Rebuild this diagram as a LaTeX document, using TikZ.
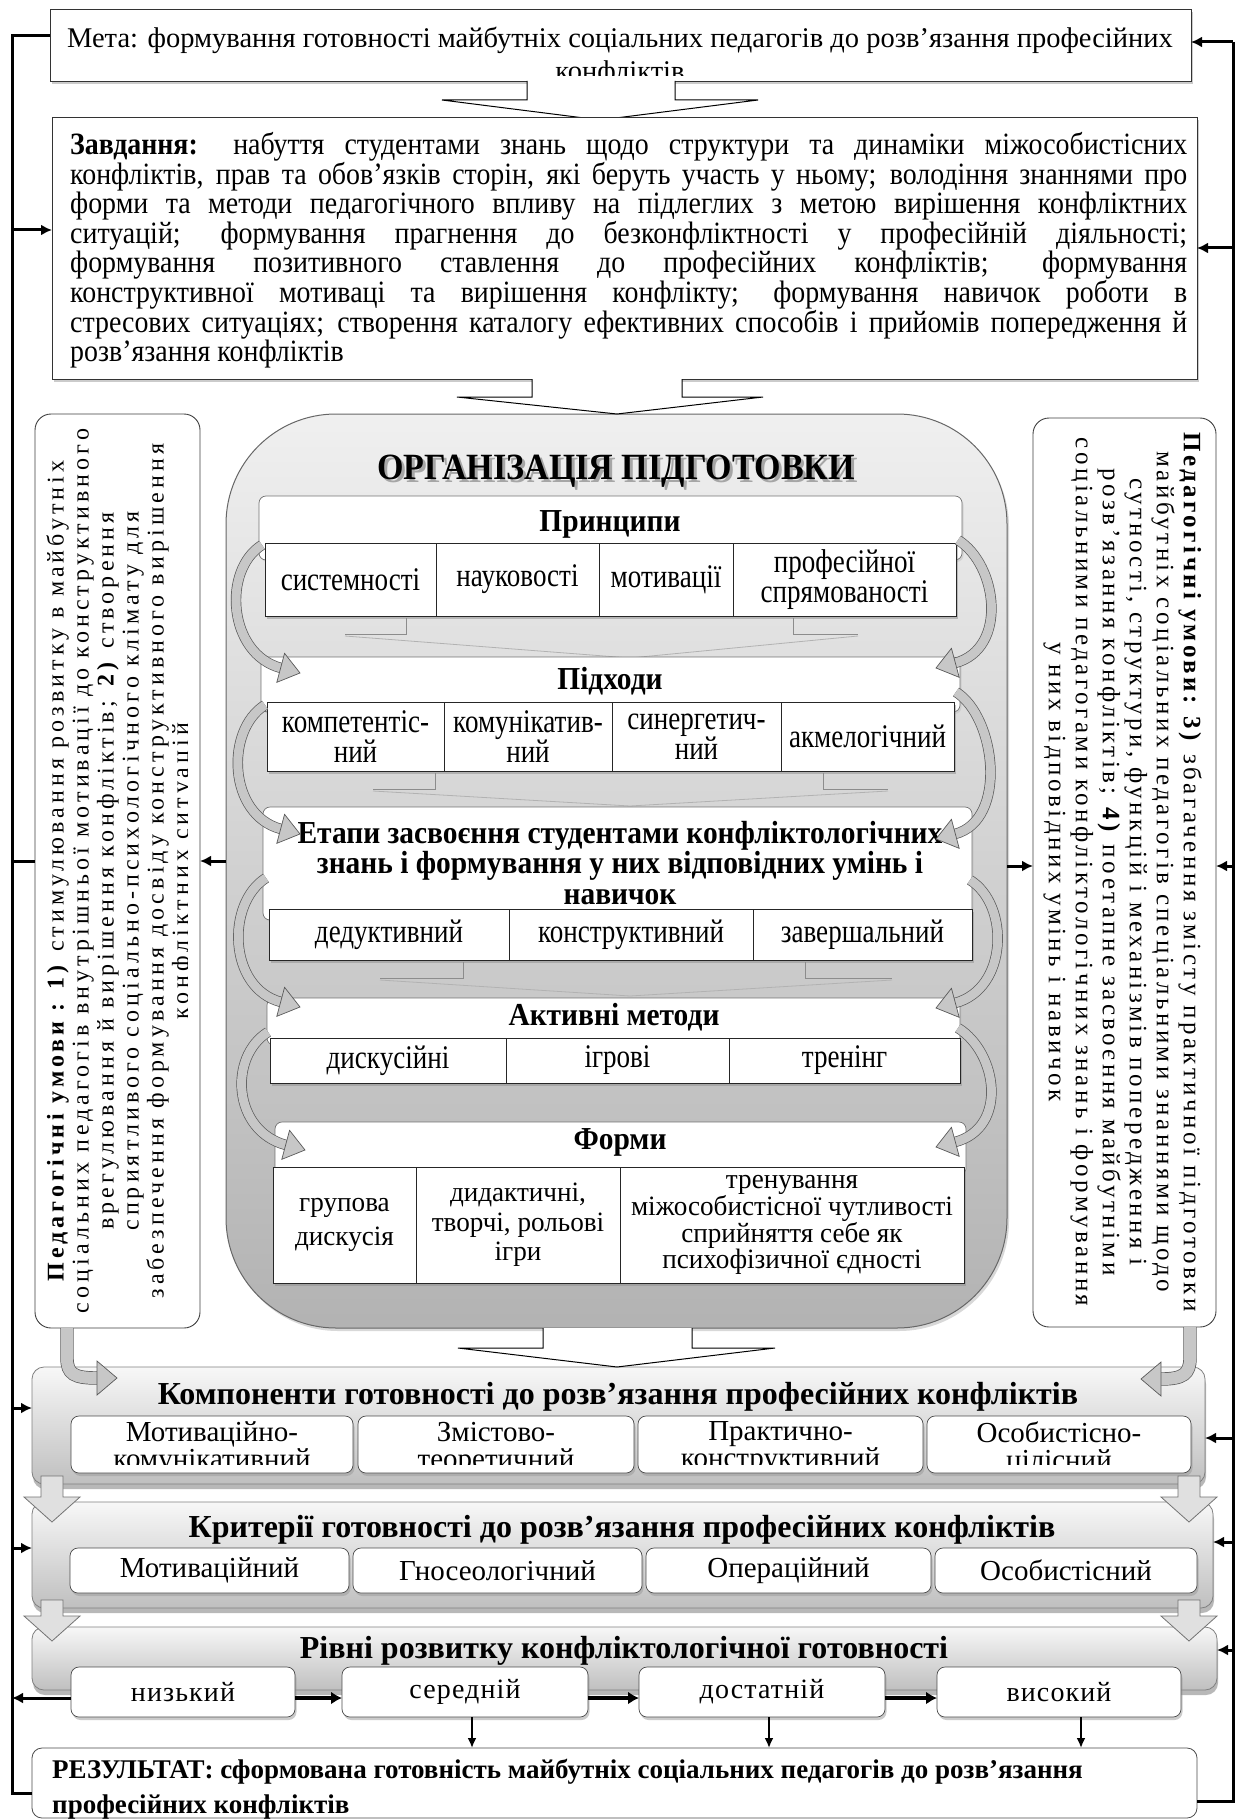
\documentclass[tikz,border=0pt]{standalone}
\usepackage{fontspec}
\setmainfont{Liberation Serif}
\newfontfamily\lsA[LetterSpace=4]{Liberation Serif}
\newfontfamily\lsR[LetterSpace=14]{Liberation Serif}
\newfontfamily\lsL[LetterSpace=17]{Liberation Serif}
\newfontfamily\cf[FakeStretch=0.82]{Liberation Serif}
\newfontfamily\cfb[FakeStretch=0.97]{Liberation Serif}
\newfontfamily\hf[FakeStretch=0.92]{Liberation Serif}
\newfontfamily\zf[FakeStretch=0.9]{Liberation Serif}
\usetikzlibrary{shadows,arrows.meta,calc}
\newcommand\cellf{\cf\fontsize{33}{30}\selectfont}
\newcommand\boxat[7][]{%
  \node[#1, minimum width={(#5)-(#3)}, minimum height={(#6)-(#4)}] (#2) at ({((#3)+(#5))/2},{((#4)+(#6))/2}) {#7};}
\newcommand\curL[4]{%
  \draw[curv] (#1,#2) .. controls (#1-40,#2+25) and (#3-72,#4-19) .. (#3-19,#4-5);
  \filldraw[headst,shift={(#3,#4)},rotate=-15] (0,0) -- (-20,15) -- (-20,-15) -- cycle;}
\newcommand\curR[4]{%
  \draw[curv] (#1,#2) .. controls (#1+40,#2+25) and (#3+72,#4-19) .. (#3+19,#4-5);
  \filldraw[headst,shift={(#3,#4)},rotate=195] (0,0) -- (-20,15) -- (-20,-15) -- cycle;}
\newcommand\gdown[3]{%
  \filldraw[garrow] (#1-11,#2) -- (#1-11,#3) -- (#1-28,#3) -- (#1,#3+25) -- (#1+28,#3) -- (#1+11,#3) -- (#1+11,#2) -- cycle;}
\tikzset{
 mbox/.style={draw=black!80, line width=0.9pt, fill=white, inner sep=0pt, outer sep=0pt, drop shadow={shadow xshift=2pt,shadow yshift=-3pt,fill=black!40}},
 sidebox/.style={draw=black!75, line width=0.9pt, fill=white, rounded corners=16pt, inner sep=0pt, outer sep=0pt},
 orgbox/.style={draw=black!60, line width=1pt, rounded corners=110pt, top color=black!6, bottom color=black!30, inner sep=0pt, outer sep=0pt},
 hdrbox/.style={draw=black!55, line width=0.7pt, fill=white, rounded corners=7pt, inner sep=0pt, outer sep=0pt, drop shadow={shadow xshift=1.5pt,shadow yshift=-2pt,fill=black!25}},
 cellbox/.style={draw=black!85, line width=0.8pt, fill=white, inner sep=0pt, outer sep=0pt, align=center, font=\cellf, drop shadow={shadow xshift=1.5pt,shadow yshift=-2.5pt,fill=black!45}},
 bandbox/.style={draw=black!50, line width=0.8pt, rounded corners=12pt, top color=black!3, bottom color=black!25, inner sep=0pt, outer sep=0pt, drop shadow={shadow xshift=1pt,shadow yshift=-5pt,fill=black!55}},
 subbox/.style={draw=black!70, line width=0.7pt, fill=white, rounded corners=8pt, inner sep=0pt, outer sep=0pt, drop shadow={shadow xshift=1.5pt,shadow yshift=-3pt,fill=black!40}},
 resbox/.style={draw=black!70, line width=0.8pt, fill=white, rounded corners=10pt, inner sep=0pt, outer sep=0pt},
 trunk/.style={line width=3pt},
 fbarrow/.style={line width=3pt, -{Latex[length=11pt,width=11pt]}},
 lvarrow/.style={line width=4pt, -{Latex[length=11pt,width=13pt]}},
 dnarrow/.style={line width=2pt, -{Latex[length=10pt,width=9pt]}},
 bigarrow/.style={draw=black, line width=1pt, fill=white},
 garrow/.style={draw=black!55, line width=0.8pt, fill=black!12},
 curv/.style={draw=black!65, line width=0.7pt, double=black!22, double distance=9pt},
 headst/.style={draw=black!65, line width=0.7pt, fill=black!22},
 brk/.style={draw=black!45, line width=0.8pt},
 hdrtext/.style={inner sep=0pt, align=center, font=\hf\bfseries\fontsize{32}{30.5}\selectfont},
 bandtext/.style={inner sep=0pt, font=\bfseries\fontsize{32}{34}\selectfont},
 subtext/.style={inner sep=0pt, align=center, font=\fontsize{29}{27}\selectfont},
}
\begin{document}
\begin{tikzpicture}[x=1pt,y=-1pt]
\useasboundingbox (0,0) rectangle (1243,1819);
\fill[white] (0,0) rectangle (1243,1819);
% trunk coordinates
\coordinate (LA) at (12,230); \coordinate (LB) at (12,861); \coordinate (LC) at (12,1408);
\coordinate (LD) at (12,1548); \coordinate (LE) at (12,1692);
\coordinate (RT) at (1233,42); \coordinate (RB) at (1233,248); \coordinate (RC) at (1233,866);
\coordinate (RD) at (1233,1438); \coordinate (RE) at (1233,1542); \coordinate (RF) at (1233,1650);
\coordinate (RZ) at (1233,1801);

% ---- Мета
\boxat[mbox]{meta}{50}{9}{1191}{81}{}
\begin{scope}
\clip (46,10) rectangle (1197,76);
\node[align=center, font=\fontsize{28.5}{33}\selectfont, inner sep=0pt] (metat) at (620,56.5) {Мета: формування готовності майбутніх соціальних педагогів до розв’язання професійних\\конфліктів};
\end{scope}
\draw[bigarrow] (meta.south -| 527,0) -- (527,100) -- (442,100) -- (600,120) -- (758,100) -- (675,100) -- (meta.south -| 675,0);

% ---- Завдання
\boxat[mbox]{zadan}{52}{117}{1197}{379}{}
\node[anchor=north west, text width=1117pt, align=justify, font=\zf\fontsize{31}{28}\selectfont, inner sep=0pt] (zadant) at (70,132) {\textbf{Завдання:} набуття студентами знань щодо структури та динаміки міжособистісних\linebreak
конфліктів, прав та обов’язків сторін, які беруть участь у ньому; володіння знаннями про\linebreak
форми та методи педагогічного впливу на підлеглих з метою вирішення конфліктних\linebreak
ситуацій; формування прагнення до безконфліктності у професійній діяльності;\linebreak
формування позитивного ставлення до професійних конфліктів; формування\linebreak
конструктивної мотиваці та вирішення конфлікту; формування навичок роботи в\linebreak
стресових ситуаціях; створення каталогу ефективних способів і прийомів попередження й\linebreak
розв’язання конфліктів};

% ---- central box
\boxat[orgbox, drop shadow={shadow xshift=2pt,shadow yshift=-3pt,fill=black!30}]{org}{226}{414}{1007}{1328}{}
\draw[bigarrow] (zadan.south -| 532,0) -- (532,397) -- (457,397) -- (617,414) -- (763,397) -- (682,397) -- (zadan.south -| 682,0);
\node[text=black!35, inner sep=0pt, font=\hf\bfseries\fontsize{37}{40}\selectfont] (orgts) at (619,474) {ОРГАНІЗАЦІЯ ПІДГОТОВКИ};
\node[inner sep=0pt, font=\hf\bfseries\fontsize{37}{40}\selectfont] (orgt) at (616,471) {ОРГАНІЗАЦІЯ ПІДГОТОВКИ};

% section 1
\boxat[hdrbox]{h1}{259}{496}{962}{560}{}
\node[hdrtext] (h1t) at (610,524) {Принципи};
\boxat[cellbox]{c11}{265}{543}{436}{616}{системності}
\boxat[cellbox]{c12}{436}{543}{599}{616}{науковості}
\boxat[cellbox]{c13}{599}{543}{733}{616}{мотивації}
\boxat[cellbox]{c14}{733}{543}{956}{616}{професійної\\спрямованості}
\draw[brk] (406,618) -- (406,634) -- (345,634);
\draw[brk] (793,618) -- (793,634) -- (858,634);
\draw[brk, draw=black!30] (345,636) -- (630,658) -- (858,636);

% section 2
\boxat[hdrbox]{h2}{261}{657}{960}{712}{}
\node[hdrtext] (h2t) at (610,681) {Підходи};
\boxat[cellbox]{c21}{267}{702}{444}{771}{компетентіс-\\ний}
\boxat[cellbox]{c22}{444}{702}{612}{771}{комунікатив-\\ний}
\boxat[cellbox]{c23}{612}{702}{781}{771}{синергетич-\\ний}
\boxat[cellbox]{c24}{781}{702}{954}{771}{акмелогічний}
\draw[brk] (435,773) -- (435,789) -- (373,789);
\draw[brk] (823,773) -- (823,789) -- (888,789);
\draw[brk, draw=black!30] (373,791) -- (630,806) -- (888,791);

% section 3
\boxat[hdrbox]{h3}{263}{807}{972}{920}{}
\node[hdrtext] (h3t) at (620,863) {Етапи засвоєння студентами конфліктологічних\\знань і формування у них відповідних умінь і\\навичок};
\boxat[cellbox]{c31}{269}{909}{509}{960}{дедуктивний}
\boxat[cellbox]{c32}{509}{909}{753}{960}{конструктивний}
\boxat[cellbox]{c33}{753}{909}{972}{960}{завершальний}
\draw[brk] (463,962) -- (463,978) -- (380,978);
\draw[brk] (805,962) -- (805,978) -- (892,978);
\draw[brk, draw=black!30] (380,980) -- (630,996) -- (892,980);

% section 4
\boxat[hdrbox]{h4}{267}{998}{960}{1045}{}
\node[hdrtext] (h4t) at (614,1017) {Активні методи};
\boxat[cellbox]{c41}{270}{1038}{506}{1083}{дискусійні}
\boxat[cellbox]{c42}{506}{1038}{729}{1083}{ігрові}
\boxat[cellbox]{c43}{729}{1038}{960}{1083}{тренінг}

% section 5
\boxat[hdrbox]{h5}{275}{1122}{966}{1175}{}
\node[hdrtext] (h5t) at (620,1142) {Форми};
\boxat[cellbox, font=\cfb\fontsize{28}{34}\selectfont]{c51}{273}{1167}{416}{1283}{групова\\дискусія}
\boxat[cellbox, font=\cfb\fontsize{28}{29.5}\selectfont]{c52}{416}{1167}{620}{1283}{дидактичні,\\творчі, рольові\\ігри}
\boxat[cellbox, font=\cfb\fontsize{28}{25}\selectfont]{c53}{620}{1167}{964}{1283}{тренування\\міжособистісної чутливості\\сприйняття себе як\\психофізичної єдності}

% curved arrows
\curL{262}{545}{300}{673}
\curL{265}{705}{300}{834}
\curL{266}{878}{300}{1007}
\curL{268}{1032}{305}{1150}
\curR{958}{540}{936}{668}
\curR{956}{692}{936}{839}
\curR{970}{880}{936}{1008}
\curR{958}{1028}{936}{1147}

% ---- side boxes
\boxat[sidebox]{leftb}{35}{414}{200}{1328}{}
\begin{scope}
\clip (36,415) rectangle (187,1327);
\node[rotate=90, align=center, inner sep=0pt, font=\lsL\fontsize{24}{25}\selectfont] (leftt) at (120,871) {\textbf{Педагогічні умови : 1)} стимулювання розвитку в майбутніх\\
соціальних педагогів внутрішньої мотивації до конструктивного\\
врегулювання й вирішення конфліктів; \textbf{2)} створення\\
сприятливого соціально-психологічного клімату для\\
забезпечення формування досвіду конструктивного вирішення\\
конфліктних ситуацій};
\end{scope}
\boxat[sidebox]{rightb}{1033}{418}{1216}{1327}{}
\node[rotate=-90, align=center, inner sep=0pt, font=\lsR\fontsize{25}{27}\selectfont] (rightt) at (1122.5,872) {\textbf{Педагогічні умови: 3)} збагачення змісту практичної підготовки\\
майбутніх соціальних педагогів спеціальними знаннями щодо\\
сутності, структури, функцій і механізмів попередження і\\
розв’язання конфліктів; \textbf{4)} поетапне засвоєння майбутніми\\
соціальними педагогами конфліктологічних знань і формування\\
у них відповідних умінь і навичок};
\draw[fbarrow] (org.west |- LB) -- (leftb.east |- LB);
\draw[fbarrow] (org.east |- RC) -- (rightb.west |- RC);

% ---- bands
\boxat[bandbox]{band1}{32}{1367}{1205}{1484}{}
\node[bandtext] (band1t) at (618,1397) {Компоненти готовності до розв’язання професійних конфліктів};
\foreach \nm/\xa/\xb/\tx in {k1/71/353/{Мотиваційно-\\комунікативний}, k2/358/634/{Змістово-\\теоретичний}, k3/638/923/{Практично-\\конструктивний}, k4/927/1191/{Особистісно-\\цілісний}}{
  \boxat[subbox]{\nm}{\xa}{1416}{\xb}{1473}{}
  \begin{scope}
  \clip (\xa,1417) rectangle (\xb,1464);
  \node[subtext] (\nm t) at ({(\xa+\xb)/2},1448) {\tx};
  \end{scope}
}
\boxat[bandbox]{band2}{32}{1502}{1213}{1608}{}
\node[bandtext] (band2t) at (622,1530) {Критерії готовності до розв’язання професійних конфліктів};
\boxat[subbox]{q1}{70}{1548}{349}{1593}{}
\boxat[subbox]{q2}{353}{1548}{642}{1593}{}
\boxat[subbox]{q3}{646}{1548}{931}{1593}{}
\boxat[subbox]{q4}{935}{1548}{1197}{1593}{}
\node[subtext] at (q1) {Мотиваційний};
\node[subtext] at (q2) {Гносеологічний};
\node[subtext] at (q3) {Операційний};
\node[subtext] at (q4) {Особистісний};
\boxat[bandbox]{band3}{32}{1627}{1217}{1690}{}
\node[bandtext] (band3t) at (624,1651) {Рівні розвитку конфліктологічної готовності};

\gdown{52}{1476}{1497}
\gdown{1189}{1476}{1497}
\gdown{52}{1600}{1616}
\gdown{1189}{1600}{1616}

% pipes from side boxes
\draw[curv, double distance=12pt] (leftb.south -| 67,0) -- (67,1358) .. controls (67,1374) and (74,1378) .. (97,1378);
\filldraw[headst] (117,1378) -- (97,1361) -- (97,1395) -- cycle;
\draw[curv, double distance=12pt] (rightb.south -| 1190,0) -- (1190,1358) .. controls (1190,1374) and (1183,1379) .. (1161,1379);
\filldraw[headst] (1141,1379) -- (1161,1362) -- (1161,1396) -- cycle;

% central arrow 3
\draw[bigarrow] (org.south -| 543,0) -- (543,1348) -- (458,1348) -- (617,1367) -- (775,1348) -- (692,1348) -- (org.south -| 692,0);

% levels
\boxat[subbox]{l1}{71}{1667}{295}{1717}{}
\boxat[subbox]{l2}{342}{1667}{588}{1717}{}
\boxat[subbox]{l3}{639}{1667}{885}{1717}{}
\boxat[subbox]{l4}{937}{1667}{1181}{1717}{}
\node[subtext, font=\lsA\fontsize{28}{28}\selectfont] at (l1) {низький};
\node[subtext, font=\lsA\fontsize{28}{28}\selectfont] at (l2) {середній};
\node[subtext, font=\lsA\fontsize{28}{28}\selectfont] at (l3) {достатній};
\node[subtext, font=\lsA\fontsize{28}{28}\selectfont] at (l4) {високий};
\coordinate (l1w) at ([yshift=-6pt]l1.west);
\draw[lvarrow] ([yshift=-6pt]l1.east) -- ([yshift=-6pt]l2.west);
\draw[lvarrow] ([yshift=-6pt]l2.east) -- ([yshift=-6pt]l3.west);
\draw[lvarrow] ([yshift=-6pt]l3.east) -- ([yshift=-6pt]l4.west);

% result
\boxat[resbox]{res}{32}{1748}{1197}{1818}{}
\node[anchor=north west, align=left, inner sep=0pt, font=\bfseries\fontsize{27}{35}\selectfont] (rest) at (52,1759) {РЕЗУЛЬТАТ: сформована готовність майбутніх соціальних педагогів до розв’язання\\професійних конфліктів};
\draw[dnarrow] ([xshift=7pt]l2.south) -- ([xshift=7pt]l2.south |- res.north);
\draw[dnarrow] ([xshift=7pt]l3.south) -- ([xshift=7pt]l3.south |- res.north);
\draw[dnarrow] ([xshift=22pt]l4.south) -- ([xshift=22pt]l4.south |- res.north);

% ---- feedback trunks
\draw[trunk] (meta.west |- 0,36) -| (12,1793) -- (res.west |- 0,1793);
\draw[fbarrow] (LA) -- (zadan.west |- LA);
\draw[trunk] (LB) -- (leftb.west |- LB);
\draw[fbarrow] (LC) -- (band1.west |- LC);
\draw[fbarrow] (LD) -- (band2.west |- LD);
\draw[fbarrow] (l1w) -- (l1w -| LE);
\draw[trunk] (RT) -- (RZ) -- (res.east |- RZ);
\draw[fbarrow] (RT) -- (meta.east |- RT);
\draw[fbarrow] (RB) -- (zadan.east |- RB);
\draw[fbarrow] (RC) -- (rightb.east |- RC);
\draw[fbarrow] (RD) -- (band1.east |- RD);
\draw[fbarrow] (RE) -- (band2.east |- RE);
\draw[fbarrow] (RF) -- (band3.east |- RF);
\end{tikzpicture}
\end{document}
